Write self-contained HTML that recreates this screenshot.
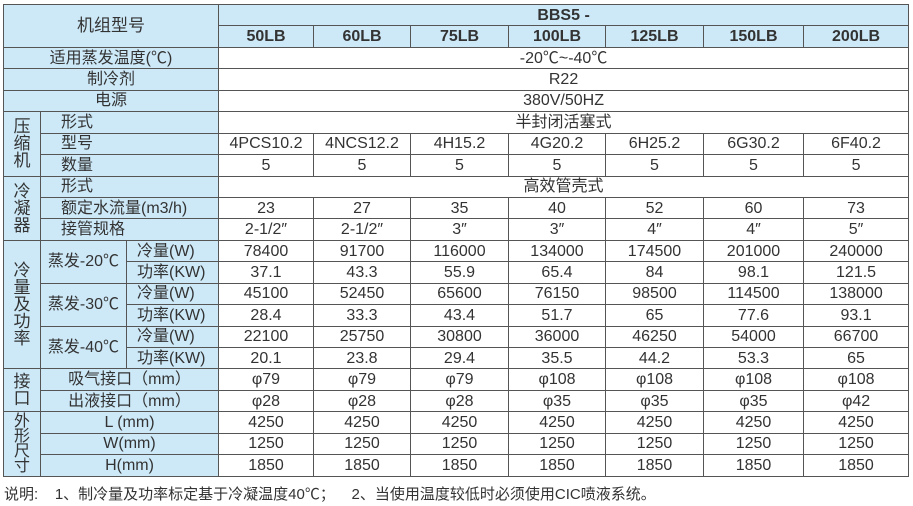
<!DOCTYPE html>
<html><head><meta charset="utf-8"><style>
body{margin:0;width:913px;height:506px;background:#fff;overflow:hidden;font-family:"Liberation Sans","Noto Sans CJK SC",sans-serif;color:#333;}
table{position:absolute;left:3px;top:4px;border-collapse:collapse;table-layout:fixed;width:905px;}
td{border:1px solid #555;padding:0;height:20.45px;line-height:19px;font-size:16px;text-align:center;white-space:nowrap;overflow:hidden;}
.b{background:#cde9f8;}
.h{font-weight:bold;font-size:16px;}
.l{text-align:left;padding-left:20px;}
.l2{text-align:left;padding-left:10px;}
.v{line-height:17px;font-size:17px;}
.note{position:absolute;left:4px;top:483px;font-size:15px;color:#333;}
</style></head><body>
<table>
<colgroup><col style="width:37px"><col style="width:86px"><col style="width:92px"><col style="width:95px"><col style="width:97px"><col style="width:98px"><col style="width:97px"><col style="width:98px"><col style="width:100px"><col style="width:105px"></colgroup>
<tr><td class="b" colspan="3" rowspan="2" style="font-size:17px">机组型号</td><td class="b h" colspan="7">BBS5 -</td></tr>
<tr><td class="b h">50LB</td><td class="b h">60LB</td><td class="b h">75LB</td><td class="b h">100LB</td><td class="b h">125LB</td><td class="b h">150LB</td><td class="b h">200LB</td></tr>
<tr><td class="b" colspan="3">适用蒸发温度(℃)</td><td colspan="7">-20℃~-40℃</td></tr>
<tr><td class="b" colspan="3">制冷剂</td><td colspan="7">R22</td></tr>
<tr><td class="b" colspan="3">电源</td><td colspan="7">380V/50HZ</td></tr>
<tr><td class="b v" rowspan="3">压<br>缩<br>机</td><td class="b l" colspan="2">形式</td><td colspan="7">半封闭活塞式</td></tr>
<tr><td class="b l" colspan="2">型号</td><td>4PCS10.2</td><td>4NCS12.2</td><td>4H15.2</td><td>4G20.2</td><td>6H25.2</td><td>6G30.2</td><td>6F40.2</td></tr>
<tr><td class="b l" colspan="2">数量</td><td>5</td><td>5</td><td>5</td><td>5</td><td>5</td><td>5</td><td>5</td></tr>
<tr><td class="b v" rowspan="3">冷<br>凝<br>器</td><td class="b l" colspan="2">形式</td><td colspan="7">高效管壳式</td></tr>
<tr><td class="b l" colspan="2">额定水流量(m3/h)</td><td>23</td><td>27</td><td>35</td><td>40</td><td>52</td><td>60</td><td>73</td></tr>
<tr><td class="b l" colspan="2">接管规格</td><td>2-1/2″</td><td>2-1/2″</td><td>3″</td><td>3″</td><td>4″</td><td>4″</td><td>5″</td></tr>
<tr><td class="b v" rowspan="6">冷<br>量<br>及<br>功<br>率</td><td class="b" rowspan="2">蒸发-20℃</td><td class="b l2">冷量(W)</td><td>78400</td><td>91700</td><td>116000</td><td>134000</td><td>174500</td><td>201000</td><td>240000</td></tr>
<tr><td class="b l2">功率(KW)</td><td>37.1</td><td>43.3</td><td>55.9</td><td>65.4</td><td>84</td><td>98.1</td><td>121.5</td></tr>
<tr><td class="b" rowspan="2">蒸发-30℃</td><td class="b l2">冷量(W)</td><td>45100</td><td>52450</td><td>65600</td><td>76150</td><td>98500</td><td>114500</td><td>138000</td></tr>
<tr><td class="b l2">功率(KW)</td><td>28.4</td><td>33.3</td><td>43.4</td><td>51.7</td><td>65</td><td>77.6</td><td>93.1</td></tr>
<tr><td class="b" rowspan="2">蒸发-40℃</td><td class="b l2">冷量(W)</td><td>22100</td><td>25750</td><td>30800</td><td>36000</td><td>46250</td><td>54000</td><td>66700</td></tr>
<tr><td class="b l2">功率(KW)</td><td>20.1</td><td>23.8</td><td>29.4</td><td>35.5</td><td>44.2</td><td>53.3</td><td>65</td></tr>
<tr><td class="b v" rowspan="2">接<br>口</td><td class="b" colspan="2">吸气接口（mm）</td><td>φ79</td><td>φ79</td><td>φ79</td><td>φ108</td><td>φ108</td><td>φ108</td><td>φ108</td></tr>
<tr><td class="b" colspan="2">出液接口（mm）</td><td>φ28</td><td>φ28</td><td>φ28</td><td>φ35</td><td>φ35</td><td>φ35</td><td>φ42</td></tr>
<tr><td class="b v" rowspan="3" style="line-height:15px;font-size:16px">外<br>形<br>尺<br>寸</td><td class="b" colspan="2">L (mm)</td><td>4250</td><td>4250</td><td>4250</td><td>4250</td><td>4250</td><td>4250</td><td>4250</td></tr>
<tr><td class="b" colspan="2">W(mm)</td><td>1250</td><td>1250</td><td>1250</td><td>1250</td><td>1250</td><td>1250</td><td>1250</td></tr>
<tr><td class="b" colspan="2">H(mm)</td><td>1850</td><td>1850</td><td>1850</td><td>1850</td><td>1850</td><td>1850</td><td>1850</td></tr>
</table>
<div class="note">说明:&nbsp;&nbsp;&nbsp;&nbsp;1、制冷量及功率标定基于冷凝温度40℃；&nbsp;&nbsp;&nbsp;&nbsp;2、当使用温度较低时必须使用CIC喷液系统。</div>
</body></html>
